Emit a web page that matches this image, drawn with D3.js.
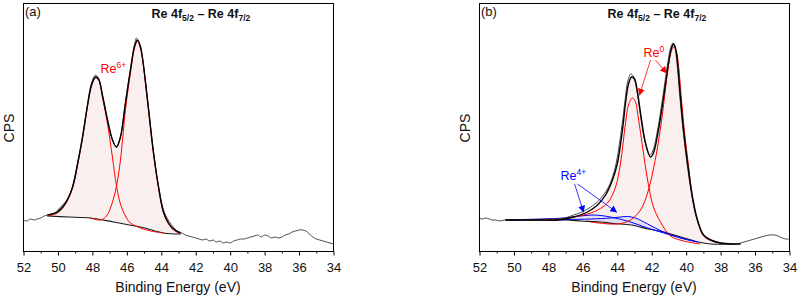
<!DOCTYPE html>
<meta charset="utf-8">
<style>

body {
  margin: 0;
  background: #fff;
}

svg {
  font-family: "Liberation Sans", Arial, sans-serif;
}

.frame { fill: none; stroke: #000; stroke-width: 1px; }
.raw   { fill: none; stroke: #3a3a3a; stroke-width: .9px; }
.env   { fill: none; stroke: #000; stroke-width: 1.4px; }
.bg    { fill: none; stroke: #1a1a1a; stroke-width: 1.1px; }
.red   { fill: none; stroke: #f00; stroke-width: 1px; }
.blue  { fill: none; stroke: #00f; stroke-width: 1px; }
.pink  { fill: #f6e4e4; fill-opacity: .6; }
.lav   { fill: #d8d8f4; fill-opacity: .6; }

</style>
<body>
<script src="https://cdn.jsdelivr.net/npm/d3@7"></script>
<script>

// binding energy ticks (eV)
var majorTicks = [52, 50, 48, 46, 44, 42, 40, 38, 36, 34],
    minorTicks = [51, 49, 47, 45, 43, 41, 39, 37, 35];

// ---- panel (a): [eV, intensity] ----
var rawA = [[52.0,31],[51.8,30],[51.6,32],[51.4,31],[51.2,32],[51.0,33],[50.8,35],[50.6,36],[50.4,37],
  [50.2,38],[50.0,41],[49.8,45],[49.56,49],[49.3,57],[49.15,65],[48.86,88],[48.57,115],[48.28,147],
  [48.05,168],[47.82,176],[47.64,172],[47.41,156],[47.12,131],[46.83,111],[46.6,104],[46.37,114],
  [46.08,149],[45.79,182],[45.55,206],[45.45,213],[45.38,211],[45.21,205],[45.09,193],[44.8,152],
  [44.45,99],[44.16,65],[43.87,41],[43.6,31],[43.4,26],[43.2,22],[43.0,19],[42.8,18],[42.6,16],
  [42.4,15],[42.2,14],[42.0,13],[41.8,12],[41.6,11],[41.4,12],[41.2,10],[41.0,11],[40.8,9],[40.6,10],
  [40.4,8],[40.2,9],[40.0,8],[39.8,10],[39.6,11],[39.4,12],[39.2,12],[39.0,13],[38.8,14],[38.6,15],
  [38.4,16],[38.2,14],[38.0,16],[37.8,15],[37.6,13],[37.4,14],[37.2,13],[37.0,14],[36.8,16],[36.6,17],
  [36.4,19],[36.2,20],[36.0,21],[35.8,21],[35.6,20],[35.4,17],[35.2,14],[35.0,12],[34.8,11],[34.6,10],
  [34.4,9],[34.2,8],[34.0,7]];

var envA = [[50.61,36],[50.03,39],[49.56,48],[49.15,64],[48.86,87],[48.57,114],[48.28,146],[48.05,166],
  [47.82,174],[47.64,172],[47.41,155],[47.12,131],[46.83,111],[46.6,104],[46.37,114],[46.08,148],
  [45.79,181],[45.55,205],[45.38,211],[45.21,204],[45.09,193],[44.8,151],[44.45,98],[44.16,64],
  [43.87,39],[43.58,28],[43.29,22],[42.88,18]];

var bgA = [[50.61,35],[49.4,34],[48.11,33],[46.77,29],[45.21,24],[43.87,18],[42.88,17]];

var re6a = [[50.61,35],[50.03,38],[49.56,47],[49.15,63],[48.86,86],[48.57,113],[48.28,145],[48.05,165],
  [47.82,173],[47.64,171],[47.41,153],[47.12,127],[46.83,93],[46.6,65],[46.37,47],[46.08,35],
  [45.79,28],[45.21,23],[44.62,20],[43.87,18]];

var re6b = [[48.11,33],[47.53,31],[47.18,35],[46.89,46],[46.6,65],[46.37,91],[46.08,141],[45.79,178],
  [45.55,203],[45.38,210],[45.21,203],[45.09,192],[44.8,150],[44.45,97],[44.16,63],[43.87,38],
  [43.58,27],[43.29,21],[42.88,17]];

// ---- panel (b): [eV, intensity] ----
var rawB = [[52.0,33],[51.8,32],[51.6,33],[51.4,32],[51.2,31],[51.0,31],[50.8,30],[50.5,31],[50.0,31],
  [49.5,31],[49.0,31],[48.5,31],[48.0,32],[47.5,32],[47.0,33],[46.5,36],[46.0,39],[45.5,44],[45.0,51],
  [44.5,63],[44.2,76],[44.0,90],[43.7,124],[43.5,152],[43.35,170],[43.17,177],[43.0,174],[42.82,160],
  [42.65,140],[42.36,110],[42.07,96],[41.9,100],[41.61,122],[41.31,155],[41.02,189],[40.85,204],
  [40.73,208],[40.62,204],[40.5,189],[40.33,155],[40.15,122],[39.92,89],[39.63,55],[39.34,32],
  [38.99,17],[38.6,12],[38.2,9],[38.0,8],[37.5,7],[37.0,7],[36.6,9],[36.2,11],[35.8,13],[35.4,15],
  [35.1,16],[34.8,16],[34.5,14],[34.2,12],[34.0,12]];

var envB = [[50.49,31],[48.46,31],[47.47,31],[46.54,34],[45.73,39],[45.15,46],[44.68,56],[44.28,71],
  [43.99,88],[43.7,121],[43.52,148],[43.35,167],[43.17,174],[43.0,172],[42.82,158],[42.65,138],
  [42.36,108],[42.07,94],[41.9,98],[41.61,121],[41.31,154],[41.02,188],[40.85,203],[40.73,207],
  [40.62,203],[40.5,188],[40.33,154],[40.15,121],[39.92,88],[39.63,54],[39.34,31],[38.99,16],
  [38.59,11],[38.0,8],[37.25,7],[36.84,7]];

var bgB = [[50.5,31],[47.0,31],[46.1,30],[45.0,29],[44.2,27.5],[43.2,26],[42.2,22],[41.3,19],
  [40.3,14],[39.3,9],[38.6,7],[37.2,7]];

var re0a = [[49.04,31],[47.3,32],[45.96,36],[45.38,39],[44.57,48],[44.1,64],[43.81,88],[43.52,128],
  [43.35,146],[43.12,153],[42.94,149],[42.82,138],[42.53,104],[42.24,71],[41.9,44],[41.49,29],
  [40.91,15],[40.15,10],[39.17,7]];

var re0b = [[45.55,29],[43.99,27],[43.23,31],[42.65,41],[42.24,58],[41.95,78],[41.66,104],[41.37,138],
  [41.08,179],[40.91,197],[40.73,204],[40.56,199],[40.44,185],[40.27,151],[40.09,118],[39.86,85],
  [39.63,52],[39.34,30],[38.99,15],[38.47,10],[37.72,7]];

var re4a = [[50.49,31],[48.46,32],[47.12,33],[46.13,35],[45.38,36],[44.39,34],[43.23,29],[42.24,23],
  [41.31,18],[40.33,13],[39.34,9]];

var re4b = [[48.46,31],[45.55,32],[44.39,33],[43.81,34],[43.41,34.5],[42.94,33],[42.24,27],[41.31,19],
  [40.33,13],[39.34,9]];

// labels / arrows [eV, intensity]
var re6Label = [47.53, 178],
    re0Label = [42.48, 194],
    re0Arrows = [[[42.07,191],[42.71,156]], [[41.78,191],[41.14,178]]],
    re4Label = [47.30, 71],
    re4Arrows = [[[46.48,67],[45.96,39]], [[46.31,67],[44.04,39]]];

var width = 798, height = 298;

var svg = d3.select("body").append("svg")
    .attr("width", width)
    .attr("height", height);

var defs = svg.append("defs");
[["arrRed", "#f00"], ["arrBlue", "#00f"]].forEach(function(m) {
  defs.append("marker")
      .attr("id", m[0])
      .attr("viewBox", "0 0 10 10")
      .attr("refX", 9).attr("refY", 5)
      .attr("markerWidth", 7).attr("markerHeight", 7)
      .attr("markerUnits", "userSpaceOnUse")
      .attr("orient", "auto")
    .append("path")
      .attr("d", "M0,0L10,5L0,10z")
      .attr("fill", m[1]);
});

function closed(top, base) {
  var lo = top[top.length - 1][0], hi = top[0][0];
  var b = base.filter(function(d) { return d[0] <= hi + 0.01 && d[0] >= lo - 0.01; });
  return top.concat(b.slice().reverse());
}

function panel(left, tag, fill) {
  var g = svg.append("g");

  var x = d3.scaleLinear().domain([52, 34]).range([left + .5, left + 310.5]);
  var y = d3.scaleLinear().domain([0, 248]).range([251, 3]);

  var line = d3.line()
      .x(function(d) { return x(d[0]); })
      .y(function(d) { return y(d[1]); })
      .curve(d3.curveCatmullRom.alpha(0.5));

  fill(g, line, x, y);

  g.append("rect")
      .attr("class", "frame")
      .attr("x", left + .5).attr("y", 3.5)
      .attr("width", 310).attr("height", 248);

  var ax = g.append("g").attr("transform", "translate(0,251.5)");
  ax.call(d3.axisBottom(x).tickValues(majorTicks).tickSize(4).tickSizeOuter(0).tickPadding(7));
  var mn = g.append("g").attr("transform", "translate(0,251.5)");
  mn.call(d3.axisBottom(x).tickValues(minorTicks).tickSize(2).tickSizeOuter(0).tickFormat(""));
  g.selectAll(".domain").remove();
  ax.selectAll("text")
      .attr("font-family", "Liberation Sans, Arial, sans-serif")
      .attr("font-size", 13).attr("fill", "#111");

  g.append("text")
      .attr("x", left + 155).attr("y", 292)
      .attr("text-anchor", "middle")
      .attr("font-size", 14).attr("fill", "#111")
      .text("Binding Energy (eV)");

  g.append("text")
      .attr("transform", "translate(" + (left - 9) + ",128)rotate(-90)")
      .attr("text-anchor", "middle")
      .attr("font-size", 14).attr("fill", "#111")
      .text("CPS");

  g.append("text")
      .attr("x", left + 2).attr("y", 16)
      .attr("font-size", 13).attr("fill", "#111")
      .text(tag);

  var t = g.append("text")
      .attr("x", x(41.7)).attr("y", 18)
      .attr("text-anchor", "middle")
      .attr("font-size", 12.5).attr("font-weight", "bold").attr("fill", "#111");
  t.append("tspan").text("Re 4f");
  t.append("tspan").attr("font-size", 8.5).attr("dy", 3).text("5/2");
  t.append("tspan").attr("dy", -3).text(" \u2013 Re 4f");
  t.append("tspan").attr("font-size", 8.5).attr("dy", 3).text("7/2");

  return {g: g, x: x, y: y, line: line};
}

function label(g, x, y, pos, sup, color) {
  var t = g.append("text")
      .attr("x", x(pos[0])).attr("y", y(pos[1]))
      .attr("font-size", 12.5).attr("fill", color);
  t.append("tspan").text("Re");
  t.append("tspan").attr("font-size", 8.5).attr("dy", -5).text(sup);
}

function arrows(g, x, y, list, color, marker) {
  list.forEach(function(a) {
    g.append("line")
        .attr("x1", x(a[0][0])).attr("y1", y(a[0][1]))
        .attr("x2", x(a[1][0])).attr("y2", y(a[1][1]))
        .attr("stroke", color).attr("stroke-width", .8)
        .attr("marker-end", "url(#" + marker + ")");
  });
}

// panel (a)
panel(23, "(a)", function(g, line, x, y) {
  g.append("path").attr("class", "pink").attr("d", line(closed(envA, bgA)) + "Z");
  g.append("path").attr("class", "raw").attr("d", line(rawA));
  g.append("path").attr("class", "bg").attr("d", line(bgA));
  g.append("path").attr("class", "red").attr("d", line(re6a));
  g.append("path").attr("class", "red").attr("d", line(re6b));
  g.append("path").attr("class", "env").attr("d", line(envA));
  label(g, x, y, re6Label, "6+", "#f00");
});

// panel (b)
panel(479, "(b)", function(g, line, x, y) {
  g.append("path").attr("class", "pink").attr("d", line(closed(envB, bgB)) + "Z");
  g.append("path").attr("class", "lav").attr("d", line(closed(re4a, bgB)) + "Z");
  g.append("path").attr("class", "lav").attr("d", line(closed(re4b, bgB)) + "Z");
  g.append("path").attr("class", "bg").attr("d", line(bgB));
  g.append("path").attr("class", "blue").attr("d", line(re4a));
  g.append("path").attr("class", "blue").attr("d", line(re4b));
  g.append("path").attr("class", "red").attr("d", line(re0a));
  g.append("path").attr("class", "red").attr("d", line(re0b));
  g.append("path").attr("class", "raw").attr("d", line(rawB.map(function(d) { return [d[0] + 0.04, d[1]]; })));
  g.append("path").attr("class", "env").attr("d", line(envB));
  label(g, x, y, re0Label, "0", "#f00");
  arrows(g, x, y, re0Arrows, "#f00", "arrRed");
  label(g, x, y, re4Label, "4+", "#00f");
  arrows(g, x, y, re4Arrows, "#00f", "arrBlue");
});

</script>
</body>
